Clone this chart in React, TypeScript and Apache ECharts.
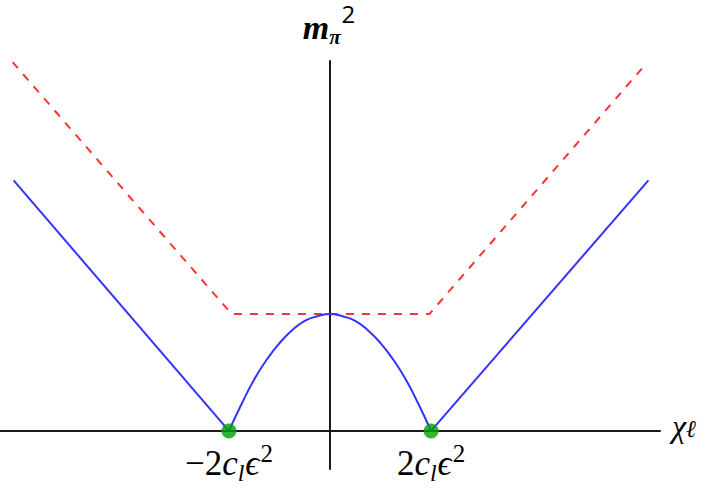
import React, { useEffect, useRef } from "react";
import * as echarts from "echarts";

// x in units of c_l ε², y in units of the arch height
const blueLeft: number[][] = [[-6.26, 2.14], [-2, 0]];
const blueArch: number[][] = [
  [-2, 0], [-1.75, 0.23], [-1.5, 0.44], [-1.25, 0.61], [-1, 0.75], [-0.75, 0.86],
  [-0.5, 0.94], [-0.25, 0.98], [0, 1], [0.25, 0.98], [0.5, 0.94], [0.75, 0.86],
  [1, 0.75], [1.25, 0.61], [1.5, 0.44], [1.75, 0.23], [2, 0],
];
const blueRight: number[][] = [[2, 0], [6.3, 2.14]];
const redDashed: number[][] = [[-6.28, 3.15], [-1.95, 1], [1.97, 1], [6.18, 3.1]];
const zeroPoints: number[][] = [[-2, 0], [2, 0]];
const zeroSigns: string[] = ["−2", "2"];
const xRange: number[] = [-6.53, 6.53];
const yRange: number[] = [-0.325, 3.16];

const SERIF = "Liberation Serif";
const SANS = "Open Sans";
const BLUE = "#3333ff";

type Piece = { t: string; size: number; italic?: boolean; bold?: boolean; family?: string; dy?: number; dx?: number };

function fontOf(p: Piece) {
  return `${p.italic ? "italic " : ""}${p.bold ? "bold " : ""}${p.size}px ${p.family || SERIF}`;
}

function layoutPieces(pieces: Piece[], anchorX: number, baseline: number, align: "center" | "left") {
  const ctx = document.createElement("canvas").getContext("2d")!;
  const widths = pieces.map((p) => {
    ctx.font = fontOf(p);
    return ctx.measureText(p.t).width;
  });
  const total = widths.reduce((a, b) => a + b, 0) + pieces.reduce((a, p) => a + (p.dx || 0), 0);
  let x = align === "center" ? anchorX - total / 2 : anchorX;
  return pieces.map((p, i) => {
    x += p.dx || 0;
    const fam = p.family || SERIF;
    const k = fam === SANS ? 0.388 : 0.34;
    const style: any = {
      text: p.t,
      font: fontOf(p),
      fontFamily: fam,
      fontSize: p.size,
      fontStyle: p.italic ? "italic" : "normal",
      fill: "#000",
    };
    if (p.bold) style.fontWeight = "bold";
    const el = {
      type: "text",
      left: x,
      top: baseline + (p.dy || 0) - k * p.size - p.size / 2,
      style,
      z: 10,
    };
    x += widths[i];
    return el;
  });
}

export default function App() {
  const ref = useRef<HTMLDivElement>(null);
  useEffect(() => {
    const chart = echarts.init(ref.current!, null, { renderer: "svg" });
    const lineBase = { type: "line", symbol: "none", silent: true };
    const baseOption: any = {
      animation: false,
      backgroundColor: "#ffffff",
      textStyle: { fontFamily: SERIF },
      grid: { left: 0, right: 60, top: 61, bottom: 25, containLabel: false, outerBoundsMode: "none" },
      xAxis: {
        type: "value",
        min: xRange[0],
        max: xRange[1],
        axisLine: { onZero: true, lineStyle: { color: "#1a1a1a", width: 2 } },
        axisTick: { show: false },
        axisLabel: { show: false },
        splitLine: { show: false },
      },
      yAxis: {
        type: "value",
        min: yRange[0],
        max: yRange[1],
        axisLine: { onZero: true, lineStyle: { color: "#1a1a1a", width: 2 } },
        axisTick: { show: false },
        axisLabel: { show: false },
        splitLine: { show: false },
      },
      series: [
        { ...lineBase, data: redDashed, lineStyle: { color: "#ff3333", width: 2, type: [8, 8] }, z: 2 },
        { ...lineBase, data: blueLeft, lineStyle: { color: BLUE, width: 2 }, z: 3 },
        { ...lineBase, data: blueArch, smooth: true, lineStyle: { color: BLUE, width: 2 }, z: 3 },
        { ...lineBase, data: blueRight, lineStyle: { color: BLUE, width: 2 }, z: 3 },
        {
          type: "scatter",
          data: zeroPoints,
          symbolSize: 15,
          itemStyle: { color: "#00a000" },
          z: 4,
        },
      ],
    };
    chart.setOption(baseOption);

    const toPx = (p: number[]) => chart.convertToPixel({ gridIndex: 0 }, p) as number[];
    const graphics: any[] = [];
    zeroPoints.forEach((pt, i) => {
      const [cx, cy] = toPx(pt);
      graphics.push(
        ...layoutPieces(
          [
            { t: zeroSigns[i], size: 35 },
            { t: "c", size: 35, italic: true },
            { t: "l", size: 24, italic: true, dy: 6 },
            { t: "ϵ", size: 35, italic: true, dx: 1 },
            { t: "2", size: 25, dy: -13, dx: 1 },
          ],
          cx,
          cy + 44,
          "center"
        )
      );
    });
    const [xEnd, xBase] = toPx([xRange[1], 0]);
    graphics.push(
      ...layoutPieces(
        [
          { t: "χ", size: 32, italic: true },
          { t: "ℓ", size: 24, italic: true },
        ],
        xEnd + 12,
        xBase + 6,
        "left"
      )
    );
    const [yAxisX, yTop] = toPx([0, yRange[1]]);
    graphics.push(
      ...layoutPieces(
        [
          { t: "m", size: 34, italic: true, bold: true },
          { t: "π", size: 21, italic: true, bold: true, dy: 5 },
          { t: "2", size: 24, family: SANS, dy: -16, dx: 1 },
        ],
        yAxisX - 1,
        yTop - 22,
        "center"
      )
    );
    chart.setOption({ ...baseOption, graphic: graphics }, true);
    return () => chart.dispose();
  }, []);
  return (
    <div>
      <span
        style={{ position: "absolute", left: 300, top: 200, fontFamily: "Liberation Serif", fontStyle: "italic", fontWeight: "bold", color: "#fff", fontSize: 10 }}
      >
        m
      </span>
      <div
        ref={ref}
        style={{ position: "absolute", left: 0, top: 0, width: 720, height: 494 }}
      />
    </div>
  );
}
